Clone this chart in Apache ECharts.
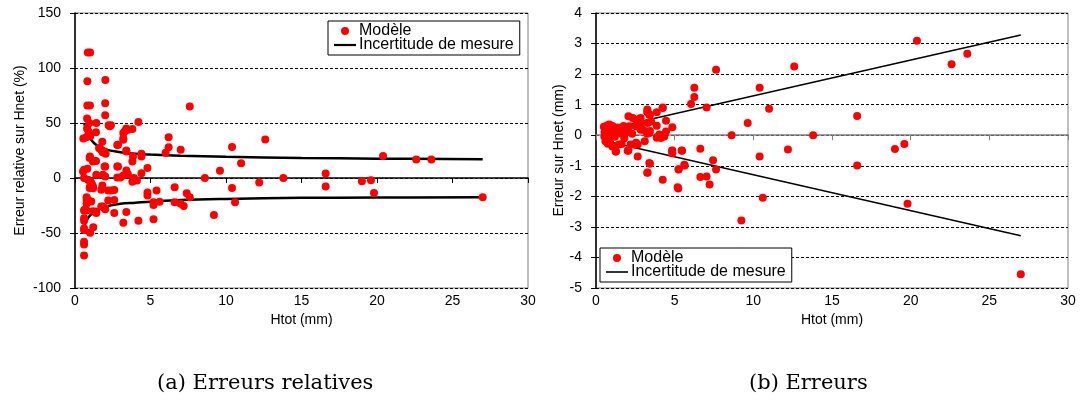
<!DOCTYPE html>
<html><head><meta charset="utf-8">
<script src="https://cdn.jsdelivr.net/npm/echarts@6/dist/echarts.min.js"></script>
<style>html,body{margin:0;padding:0;background:#fff}#c{width:1083px;height:401px}</style>
</head><body><div id="c"></div>
<script>
// ---- Data ----
const xTicks = [0, 5, 10, 15, 20, 25, 30];
const seriesNames = ['Modèle', 'Incertitude de mesure'];
const captions = ['(a) Erreurs relatives', '(b) Erreurs'];
const axisTitles = { leftY: 'Erreur relative sur Hnet (%)', rightY: 'Erreur sur Hnet (mm)', x: 'Htot (mm)' };

// (a) relative errors [Htot mm, error %]
const relPoints = [
  [0.85,114],[1.0,114],[0.82,88],[0.82,66],[0.99,66],[0.8,54],[0.95,50],[0.8,45],[0.9,42],[0.55,36],[0.75,37],[1.0,38],
  [2.01,89],[2.0,68],[2.0,57],[7.6,65],[1.41,50],[2.23,48],[2.38,48],[4.2,51],[3.4,45],[3.2,41],[3.8,44.5],[1.39,41.5],
  [1.81,33],[3.2,36],[2.8,30],[6.2,37],[6.2,28],[6.0,23],[7.0,25.7],[10.4,28.2],[12.6,35],[11.0,13.3],[4.4,22],[4.4,19.6],
  [3.4,25],[1.83,23.3],[2.03,22],[1.6,27],[0.99,19.6],[1.21,15.4],[1.39,15.4],[3.8,15],[2.8,10.5],[2.0,10.5],[4.8,9],
  [0.82,8.4],[0.6,7.5],[4.4,4.4],[2.0,1.4],[2.8,0.5],[3.0,0.5],[3.2,2.3],[3.4,6.9],[3.9,0],[4.1,-2.3],[3.8,-3.5],[8.6,0],
  [9.6,6.6],[13.8,0],[12.2,-4],[0.6,0],[1.0,-3],[1.13,-6.2],[1.2,-9.3],[1.0,-7.7],[1.81,-6.8],[2.2,-11.4],[2.4,-11.4],
  [2.6,-10.8],[4.8,-13.2],[4.8,-15.9],[5.4,-11.4],[6.6,-8.4],[7.4,-13.8],[7.6,-17.5],[10.4,-9.2],[10.6,-22],[0.77,-17.5],
  [0.77,-19.9],[0.77,-23.5],[0.6,-29.6],[0.77,-29.6],[2.2,-20.5],[2.6,-20],[1.81,-26],[2.0,-28.4],[1.4,-30.5],[2.6,-31.8],
  [3.4,-31],[3.2,-40.6],[4.2,-38.8],[5.2,-22],[5.2,-24.5],[5.6,-21.5],[5.2,-37.5],[6.6,-22],[7.0,-23.5],[7.2,-25.4],
  [9.2,-33.6],[0.6,-36.6],[0.6,-38.8],[1.21,-44.8],[1.0,-49.7],[0.6,-45.8],[0.6,-47.3],[0.6,-57.9],[0.6,-60.4],[0.6,-70.4],
  [20.4,19.9],[22.6,16.9],[23.6,16.9],[16.6,4.1],[16.6,-7.7],[19.0,-2.9],[19.6,-2],[19.8,-13.6],[27.0,-17.5],
  [0.53,6],[1.41,2.9],[1.85,2.9],[3.5,3.5],[2.85,10.5],[0.86,-1.6],[1.08,-4.6],[1.19,-7.6],[0.97,-9.1],[1.74,-10.7],
  [0.86,-19.8],[1.08,-21.3],[1.74,-25.8],[1.96,-27.3],[0.64,-28.8],[1.19,-30.3],[1.41,-31.8],[1.63,27.2],[1.74,25.7],
  [1.96,24.2],[3.4,24.2],[3.84,19.6],[0.97,18.1],[1.19,15.1],[3.3,42.4],[3.5,43.9],[2.3,47],[3.2,34.8],[2.85,30.3],[1.96,10.5]
];
// (a) measurement uncertainty curves (%)
const relCurveX     = [0.6, 0.8, 1.0, 1.5, 2, 3, 4, 5, 7, 10, 15, 20, 27];
const relCurveUpper = [50, 42, 36, 29, 26, 23.5, 22, 21.3, 20.3, 19.3, 18.2, 17.6, 17.0];
const relCurveLower = [-44, -38, -34, -28.5, -26, -23.5, -22.5, -21.5, -20, -19, -18, -17.8, -17.6];

// (b) absolute errors [Htot mm, error mm]
const absPoints = [
  [7.63,2.14],[12.6,2.25],[6.25,1.55],[6.25,1.25],[10.4,1.55],[6.04,1.02],[7.03,0.91],[4.24,0.89],[11.0,0.87],[9.64,0.4],
  [8.62,0],[13.8,0],[3.86,0.75],[3.26,0.84],[3.26,0.75],[3.43,0.67],[4.45,0.47],[4.45,0.12],[4.85,0.26],[3.86,0.31],
  [4.03,0.02],[4.24,-0.04],[3.86,-0.08],[3.43,0.14],[3.26,0.05],[2.84,0.56],[2.84,0.35],[2.84,0.18],[2.06,0.62],[2.33,0.56],
  [2.58,0.51],[5.44,-0.5],[4.85,-0.5],[4.85,-0.59],[6.63,-0.44],[7.44,-0.82],[7.63,-1.12],[6.63,-1.37],[7.03,-1.35],
  [7.22,-1.61],[5.64,-0.99],[5.25,-1.12],[5.23,-1.74],[4.24,-1.46],[3.43,-0.93],[3.26,-1.23],[2.65,-0.7],[2.06,-0.5],
  [10.4,-0.7],[10.6,-2.05],[12.2,-0.47],[9.24,-2.79],[1.25,-0.53],[1.04,-0.37],[1.63,-0.29],
  [20.4,3.09],[22.6,2.32],[23.6,2.67],[16.6,0.63],[19.0,-0.45],[19.6,-0.29],[16.6,-0.99],[19.8,-2.24],[27.0,-4.55],
  [0.5,0.28],[0.55,0.1],[0.6,0.0],[0.6,-0.2],[0.65,0.23],[0.7,0.32],[0.7,-0.1],[0.75,0.15],[0.75,-0.28],[0.8,0.05],
  [0.85,0.35],[0.85,-0.15],[0.9,0.2],[0.9,-0.25],[0.95,0.02],[1.0,0.3],[1.06,0.29],[1.1,0.1],[1.17,0.07],[1.2,-0.05],
  [1.3,0.2],[1.35,0.1],[1.4,0.25],[1.45,-0.3],[1.48,0.23],[1.6,0.05],[1.69,0.18],[1.75,0.3],[1.8,-0.1],[1.9,0.1],
  [2.01,0.2],[2.01,-0.51],[2.12,0.29],[2.2,-0.3],[2.3,0.05],[2.54,0.29],[2.55,-0.25],[2.75,0.53],[2.97,0.18],[3.18,0.13],
  [3.39,0.07],[3.1,-0.2],[2.4,-0.3],[1.27,-0.53],[0.53,-0.04],[0.74,-0.13],[0.64,0.07],[2.65,-0.3],[3.92,-0.04],
  [4.13,-0.09],[4.34,-0.04],[4.83,-0.51],[5.47,-0.51],[3.39,-0.91],[3.28,-1.22],[5.19,-1.7],[5.61,-0.97],[5.25,-1.11],
  [3.28,0.4],[3.5,0.45],[3.39,0.67],[3.28,0.78],[4.24,0.91]
];
// (b) measurement uncertainty lines (mm)
const absLineX     = [0.6, 27];
const absLineUpper = [0.19, 3.28];
const absLineLower = [-0.19, -3.29];

// ---- Chart ----
const FONT = 'Liberation Sans';
const pair = (xs, ys) => xs.map((x, i) => [x, ys[i]]);
const chart = echarts.init(document.getElementById('c'), null, { renderer: 'canvas' });

function xAxes(grid, zeroColor) {
  return [
    { gridIndex: grid, type: 'value', min: 0, max: 30, interval: 5, position: 'bottom',
      axisLine: { show: false, onZero: false }, axisTick: { show: false }, splitLine: { show: false },
      axisLabel: { color: '#000', fontFamily: FONT, fontSize: 14, margin: 6 },
      name: axisTitles.x, nameLocation: 'middle', nameGap: 22,
      nameTextStyle: { color: '#000', fontFamily: FONT, fontSize: 14 } },
    { gridIndex: grid, type: 'value', min: 0, max: 30, interval: 5, position: 'bottom',
      axisLine: { show: true, onZero: true, lineStyle: { color: zeroColor, width: 1.5 } },
      axisTick: { show: true, inside: false, length: 5, lineStyle: { color: zeroColor, width: 1 } },
      axisLabel: { show: false }, splitLine: { show: false } }
  ];
}
function yAxis(grid, min, max, interval, name, gap) {
  return { gridIndex: grid, type: 'value', min, max, interval,
    axisLine: { show: true, onZero: false, lineStyle: { color: '#000', width: 1.5 } },
    axisTick: { show: true, length: 5, lineStyle: { color: '#000' } },
    axisLabel: { color: '#000', fontFamily: FONT, fontSize: 14, margin: 14 },
    splitLine: { show: true, lineStyle: { color: '#000', width: 1, type: [3, 2] } },
    name, nameLocation: 'middle', nameGap: gap,
    nameTextStyle: { color: '#000', fontFamily: FONT, fontSize: 14 } };
}
function legend(left, top, lineH) {
  return {
    left, top, orient: 'vertical', itemWidth: 22, itemHeight: 8, itemGap: -2, padding: [2, 6, 2, 6],
    backgroundColor: '#fff', borderColor: '#000', borderWidth: 1, borderRadius: 0, symbolKeepAspect: true,
    textStyle: { color: '#000', fontFamily: FONT, fontSize: 16, padding: [0, 0, 0, -2] },
    selectedMode: false,
    data: [
      { name: seriesNames[0], icon: 'circle' },
      { name: seriesNames[1], icon: 'path://M0,0H22V' + lineH + 'H0Z' }
    ]
  };
}

chart.setOption({
  animation: false,
  backgroundColor: '#fff',
  grid: [
    { left: 75, top: 13, width: 453, height: 275, show: true, borderColor: '#808080', borderWidth: 1, outerBoundsMode: 'none' },
    { left: 596, top: 13, width: 472, height: 275, show: true, borderColor: '#808080', borderWidth: 1, outerBoundsMode: 'none' }
  ],
  xAxis: [...xAxes(0, '#000'), ...xAxes(1, '#808080')],
  yAxis: [
    yAxis(0, -100, 150, 50, axisTitles.leftY, 48),
    yAxis(1, -5, 4, 1, axisTitles.rightY, 22)
  ],
  legend: [legend(328, 21, 2.2), legend(600, 248, 1.6)],
  series: [
    { name: seriesNames[0], type: 'scatter', xAxisIndex: 0, yAxisIndex: 0, data: relPoints,
      symbol: 'circle', symbolSize: 8, itemStyle: { color: '#ff0000', opacity: 1 }, z: 3 },
    { name: seriesNames[1], type: 'line', xAxisIndex: 0, yAxisIndex: 0, data: pair(relCurveX, relCurveUpper),
      smooth: 0.4, symbol: 'none', itemStyle: { color: '#000' }, lineStyle: { color: '#000', width: 2.5 }, z: 2 },
    { name: seriesNames[1], type: 'line', xAxisIndex: 0, yAxisIndex: 0, data: pair(relCurveX, relCurveLower),
      smooth: 0.4, symbol: 'none', itemStyle: { color: '#000' }, lineStyle: { color: '#000', width: 2.5 }, z: 2 },
    { name: seriesNames[0], type: 'scatter', xAxisIndex: 2, yAxisIndex: 1, data: absPoints,
      symbol: 'circle', symbolSize: 8, itemStyle: { color: '#ff0000', opacity: 1 }, z: 3 },
    { name: seriesNames[1], type: 'line', xAxisIndex: 2, yAxisIndex: 1, data: pair(absLineX, absLineUpper),
      symbol: 'none', itemStyle: { color: '#000' }, lineStyle: { color: '#000', width: 1.5 }, z: 2 },
    { name: seriesNames[1], type: 'line', xAxisIndex: 2, yAxisIndex: 1, data: pair(absLineX, absLineLower),
      symbol: 'none', itemStyle: { color: '#000' }, lineStyle: { color: '#000', width: 1.5 }, z: 2 }
  ],
  graphic: [
    { type: 'text', left: 157, top: 373, style: { text: captions[0], fill: '#000', font: '21px "DejaVu Serif"' } },
    { type: 'text', left: 749, top: 373, style: { text: captions[1], fill: '#000', font: '21px "DejaVu Serif"' } }
  ]
});
</script></body></html>
